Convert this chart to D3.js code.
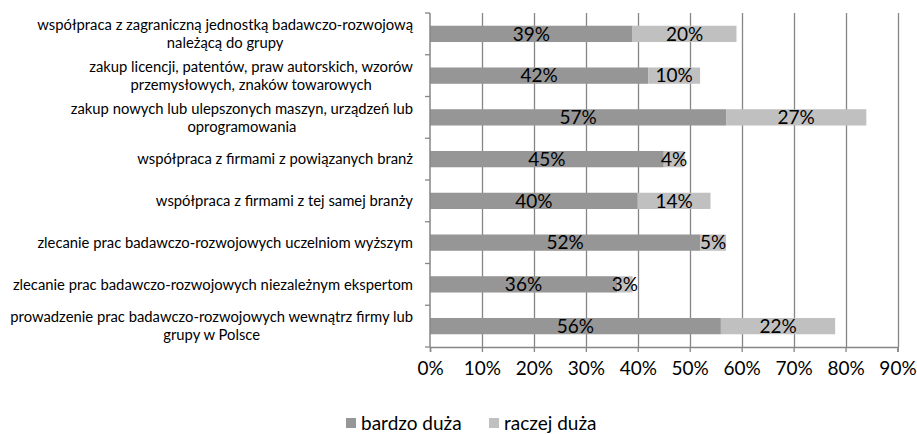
<!DOCTYPE html>
<html><head><meta charset="utf-8">
<script src="https://cdn.jsdelivr.net/npm/d3@7"></script>
<style>body{margin:0;background:#fff}svg{display:block}text{font-family:Lato,"Open Sans",sans-serif;fill:#000}</style>
</head><body>
<script>
const categories = [
  ["współpraca z zagraniczną jednostką badawczo-rozwojową","należącą do grupy"],
  ["zakup licencji, patentów, praw autorskich, wzorów","przemysłowych, znaków towarowych"],
  ["zakup nowych lub ulepszonych maszyn, urządzeń lub","oprogramowania"],
  ["współpraca z firmami z powiązanych branż"],
  ["współpraca z firmami z tej samej branży"],
  ["zlecanie prac badawczo-rozwojowych uczelniom wyższym"],
  ["zlecanie prac badawczo-rozwojowych niezależnym ekspertom"],
  ["prowadzenie prac badawczo-rozwojowych wewnątrz firmy lub","grupy w Polsce"]
];
const bardzoDuza = [39,42,57,45,40,52,36,56];
const raczejDuza = [20,10,27,4,14,5,3,22];
const seriesNames = ["bardzo duża","raczej duża"];
const seriesColors = ["#969696","#c0c0c0"];
const xTicks = [0,10,20,30,40,50,60,70,80,90];

const W=917,H=434;
const m={left:430,right:20,top:13,bottom:87};
const svg=d3.select("body").append("svg").attr("width",W).attr("height",H);
const x=d3.scaleLinear().domain([0,90]).range([m.left,897.5]);
const y=d3.scaleBand().domain(d3.range(categories.length)).range([m.top,H-m.bottom]).paddingInner(0.61).paddingOuter(0.305);
const yb=d3.scaleLinear().domain([0,categories.length]).range([m.top,H-m.bottom]);
const gray="#868686";

// gridlines
svg.append("g").selectAll("line").data(xTicks.slice(1)).join("line")
  .attr("x1",d=>Math.round(x(d))+0.5).attr("x2",d=>Math.round(x(d))+0.5)
  .attr("y1",m.top).attr("y2",H-m.bottom).attr("stroke",gray).attr("stroke-width",1.3);

// bars
const stack=categories.map((c,i)=>[
  {s:0,x0:0,x1:bardzoDuza[i],v:bardzoDuza[i],i},
  {s:1,x0:bardzoDuza[i],x1:bardzoDuza[i]+raczejDuza[i],v:raczejDuza[i],i}
]).flat();
svg.append("g").selectAll("rect").data(stack).join("rect")
  .attr("x",d=>x(d.x0)).attr("width",d=>x(d.x1)-x(d.x0))
  .attr("y",d=>y(d.i)).attr("height",y.bandwidth())
  .attr("fill",d=>seriesColors[d.s]);
svg.append("g").selectAll("text").data(stack).join("text")
  .attr("x",d=>(x(d.x0)+x(d.x1))/2).attr("y",d=>y(d.i)+y.bandwidth()/2)
  .attr("dy","0.36em").attr("text-anchor","middle").style("font-size","19px")
  .text(d=>d.v+"%");

// x axis
const xa=svg.append("g").attr("transform",`translate(0,${H-m.bottom})`)
  .call(d3.axisBottom(x).tickValues(xTicks).tickFormat(d=>d+"%").tickSize(5).tickPadding(10));
xa.select(".domain").attr("stroke",gray).attr("stroke-width",1.5);
xa.selectAll(".tick line").attr("stroke",gray).attr("stroke-width",1.3);
xa.selectAll("text").style("font-size","19px").attr("fill","#000").style("font-family","Lato");

// y axis
svg.append("line").attr("x1",m.left).attr("x2",m.left).attr("y1",m.top).attr("y2",H-m.bottom).attr("stroke",gray).attr("stroke-width",1.5);
svg.append("g").selectAll("line").data(d3.range(categories.length+1)).join("line")
  .attr("x1",m.left-5).attr("x2",m.left).attr("y1",d=>yb(d)).attr("y2",d=>yb(d)).attr("stroke",gray).attr("stroke-width",1.3);

// category labels
const lh=18;
const cg=svg.append("g");
categories.forEach((lines,i)=>{
  const cy=y(i)+y.bandwidth()/2;
  const t=cg.append("text").style("font-size","14.8px");
  lines.forEach((l,k)=>t.append("tspan").attr("y",cy+(k-(lines.length-1)/2)*lh).attr("dy","0.35em").text(l));
  const tsp=t.selectAll("tspan").nodes();
  const widths=tsp.map(n=>n.getComputedTextLength());
  const bw=d3.max(widths);
  tsp.forEach((n,k)=>d3.select(n).attr("x",413-bw/2).attr("text-anchor","middle"));
});

// legend
const lg=svg.append("g");
const lx=[346,489];
seriesNames.forEach((n,k)=>{
  lg.append("rect").attr("x",lx[k]).attr("y",418).attr("width",10).attr("height",10).attr("fill",seriesColors[k]);
  lg.append("text").attr("x",lx[k]+15).attr("y",423).attr("dy","0.36em").style("font-size","19px").text(n);
});
</script>
</body></html>
